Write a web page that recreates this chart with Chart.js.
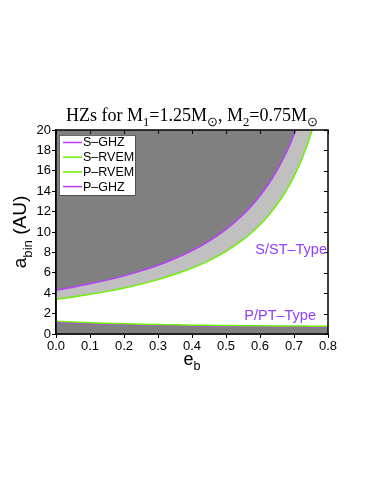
<!DOCTYPE html>
<html><head><meta charset="utf-8">
<script src="https://cdn.jsdelivr.net/npm/chart.js@4/dist/chart.umd.min.js"></script>
<style>html,body{margin:0;padding:0;background:#fff}#wrap{position:relative;width:374px;height:484px}</style>
</head><body><div id="wrap"><canvas id="c" width="374" height="484"></canvas></div>
<script>
// ---- data ----
const sEcc  = [0,0.05,0.1,0.15,0.2,0.25,0.3,0.35,0.4,0.45,0.5,0.55,0.575,0.6,0.625,0.65,0.675,0.7,0.725,0.75,0.775,0.8];
const sGHZ  = [4.30,4.59,4.92,5.28,5.70,6.19,6.74,7.40,8.17,9.11,10.25,11.69,12.55,13.55,14.69,16.03,17.62,19.54,21.88,24.82,28.63,33.72];
const sRVEM = [3.40,3.63,3.89,4.18,4.51,4.89,5.33,5.85,6.46,7.20,8.11,9.25,9.93,10.71,11.62,12.68,13.94,15.45,17.31,19.63,22.64,26.67];
const pEcc  = [0,0.05,0.1,0.15,0.2,0.25,0.3,0.35,0.4,0.45,0.5,0.55,0.6,0.65,0.7,0.75,0.8];
const pRVEM = [1.24,1.17,1.11,1.05,1.00,0.96,0.93,0.90,0.87,0.85,0.83,0.81,0.80,0.79,0.78,0.77,0.76];
const pGHZ  = [1.16,1.10,1.04,0.99,0.94,0.90,0.87,0.84,0.82,0.80,0.78,0.76,0.75,0.74,0.73,0.72,0.71];
const seriesNames = ['S\u2013GHZ','S\u2013RVEM','P\u2013RVEM','P\u2013GHZ'];
const xTicks = [0,0.1,0.2,0.3,0.4,0.5,0.6,0.7,0.8];
const yTicks = [0,2,4,6,8,10,12,14,16,18,20];
const regionLabels = ['S/ST\u2013Type','P/PT\u2013Type'];

const PURPLE = '#b83cff', GREEN = '#6cf000', DARK = '#808080', LIGHT = '#c0c0c0', TXT = '#9040ff';
const SANS = '"Liberation Sans", Arial, sans-serif';
const SERIF = '"Liberation Serif", "Times New Roman", serif';

const pts = (xs, ys) => xs.map((x, i) => ({x, y: ys[i]}));

function drawRich(ctx, segs, x, y, size, family, align, color) {
  const widths = segs.map(s => { ctx.font = (s.sub ? size*0.7 : size) + 'px ' + family; return ctx.measureText(s.t).width; });
  const total = widths.reduce((a,b)=>a+b,0);
  let cx = align === 'center' ? x - total/2 : x;
  ctx.fillStyle = color; ctx.textBaseline = 'alphabetic'; ctx.textAlign = 'left';
  segs.forEach((s, i) => {
    ctx.font = (s.sub ? size*0.7 : size) + 'px ' + family;
    ctx.fillText(s.t, cx, y + (s.sub ? size*0.3 : 0));
    cx += widths[i];
  });
}

const deco = {
  id: 'deco',
  afterDatasetsDraw(chart) {
    const {ctx, chartArea: a, scales} = chart;
    ctx.save();
    ctx.strokeStyle = '#000'; ctx.lineWidth = 1.5;
    ctx.strokeRect(a.left, a.top, a.right - a.left, a.bottom - a.top);
    ctx.lineWidth = 1;
    ctx.beginPath();
    xTicks.forEach(v => { const px = Math.round(scales.x.getPixelForValue(v)) + 0.5; ctx.moveTo(px, a.top); ctx.lineTo(px, a.top + 4); });
    yTicks.forEach(v => { const py = Math.round(scales.y.getPixelForValue(v)) + 0.5; ctx.moveTo(a.right, py); ctx.lineTo(a.right - 4, py); });
    ctx.stroke();
    ctx.font = '14.5px ' + SANS; ctx.fillStyle = TXT; ctx.textAlign = 'right'; ctx.textBaseline = 'middle';
    ctx.fillText(regionLabels[0], a.right - 1, 250);
    ctx.fillText(regionLabels[1], a.right - 12, 316);
    const bx = 59, by = 135, bw = 76, bh = 60;
    ctx.fillStyle = '#fff'; ctx.fillRect(bx, by, bw, bh);
    ctx.strokeStyle = '#444'; ctx.lineWidth = 0.8; ctx.strokeRect(bx + 0.5, by + 0.5, bw, bh);
    const cols = [PURPLE, GREEN, GREEN, PURPLE];
    ctx.font = '12.5px ' + SANS; ctx.textAlign = 'left'; ctx.textBaseline = 'middle';
    seriesNames.forEach((n, i) => {
      const yy = 142.5 + i * 14.7;
      ctx.strokeStyle = cols[i]; ctx.lineWidth = 1.5;
      ctx.beginPath(); ctx.moveTo(63, yy); ctx.lineTo(82, yy); ctx.stroke();
      ctx.fillStyle = '#000'; ctx.fillText(n, 83, yy + 0.5);
    });
    ctx.restore();
  },
  afterDraw(chart) {
    const {ctx, chartArea: a} = chart;
    ctx.save();
    drawRich(ctx, [
      {t:'HZs for M'},{t:'1',sub:true},{t:'=1.25M'},{t:'\u2299',sub:true},{t:', M'},{t:'2',sub:true},{t:'=0.75M'},{t:'\u2299',sub:true}
    ], (a.left + a.right)/2, 121, 18, SERIF, 'center', '#000');
    drawRich(ctx, [{t:'e'},{t:'b',sub:true}], (a.left + a.right)/2, 365, 18, SANS, 'center', '#000');
    ctx.translate(26, (a.top + a.bottom)/2);
    ctx.rotate(-Math.PI/2);
    drawRich(ctx, [{t:'a'},{t:'bin',sub:true},{t:' (AU)'}], 0, 0, 19, SANS, 'center', '#000');
    ctx.restore();
  }
};

const tickFont = {family: SANS, size: 13};
new Chart(document.getElementById('c'), {
  type: 'line',
  data: {
    datasets: [
      {label: seriesNames[0], data: pts(sEcc, sGHZ),  borderColor: PURPLE, backgroundColor: DARK,  fill: 'end'},
      {label: seriesNames[1], data: pts(sEcc, sRVEM), borderColor: GREEN,  backgroundColor: LIGHT, fill: '-1'},
      {label: seriesNames[2], data: pts(pEcc, pRVEM), borderColor: GREEN,  backgroundColor: LIGHT, fill: '+1'},
      {label: seriesNames[3], data: pts(pEcc, pGHZ),  borderColor: PURPLE, backgroundColor: DARK,  fill: 'origin'}
    ]
  },
  options: {
    responsive: false, animation: false, devicePixelRatio: 1,
    layout: {padding: {top: 130, right: 46, bottom: 120, left: 0}},
    elements: {point: {radius: 0}, line: {borderWidth: 1.5, cubicInterpolationMode: 'monotone'}},
    plugins: {legend: {display: false}, tooltip: {enabled: false}, title: {display: false}, filler: {drawTime: 'beforeDatasetsDraw'}},
    scales: {
      x: {
        type: 'linear', min: 0, max: 0.8,
        afterBuildTicks: s => { s.ticks = xTicks.map(v => ({value: v})); },
        ticks: {callback: v => Number(v).toFixed(1), color: '#000', font: tickFont, padding: 1, maxRotation: 0, autoSkip: false},
        grid: {drawOnChartArea: false, drawTicks: true, tickLength: 4, color: '#000', lineWidth: 1},
        border: {display: true, color: '#000', width: 1.5},
        afterFit: s => { s.height = 30; }
      },
      y: {
        type: 'linear', min: 0, max: 20,
        afterBuildTicks: s => { s.ticks = yTicks.map(v => ({value: v})); },
        ticks: {color: '#000', font: tickFont, padding: 1, autoSkip: false},
        grid: {drawOnChartArea: false, drawTicks: true, tickLength: 4, color: '#000', lineWidth: 1},
        border: {display: true, color: '#000', width: 1.5},
        afterFit: s => { s.width = 56; }
      }
    }
  },
  plugins: [deco]
});
</script></body></html>
